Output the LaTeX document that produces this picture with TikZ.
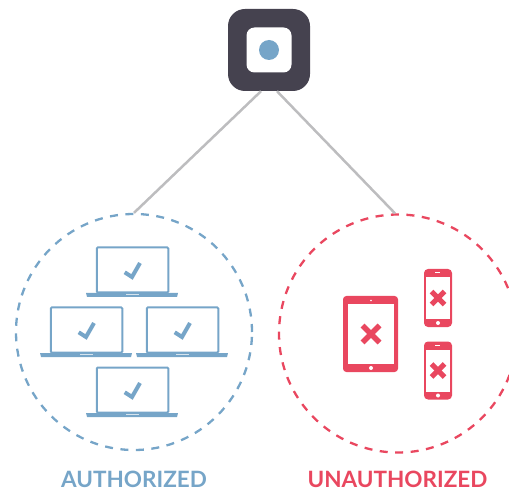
\documentclass[tikz,border=0pt]{standalone}
\usepackage{fontspec}
\setmainfont{Lato}
\usepackage{tikz}
\definecolor{hubdark}{HTML}{45424F}
\definecolor{authblue}{HTML}{76A5C8}
\definecolor{unauthred}{HTML}{E9475F}
\definecolor{linkgrey}{HTML}{BDBDBF}
\tikzset{
  zone/.style={circle,draw,line width=2.3pt,dash pattern=on 8pt off 7.5pt,inner sep=0pt},
  link/.style={draw=linkgrey,line width=2.5pt},
  zonelabel/.style={font=\fontsize{22.5}{23}\selectfont\bfseries,inner sep=0pt,anchor=base},
}

\begin{document}
\begin{tikzpicture}[x=1pt,y=-1pt]
  \newcommand{\laptopicon}[3]{
    \node (#1) at (#2+36.5,#3+23) [draw=authblue,line width=2pt,rounded corners=1pt,
      minimum width=71.5pt,minimum height=45pt,inner sep=0pt] {};
    \fill[authblue] (#2-10,#3+46) -- (#2+82,#3+46) -- (#2+81,#3+50) -- (#2-9,#3+50) -- cycle;
    \fill[white!70!authblue] (#2+30,#3+46.6) rectangle (#2+43,#3+47.8);
    \draw[authblue,line width=4pt] (#2+28.7,#3+25.3) -- (#2+36,#3+30) -- (#2+44,#3+16);
  }
  \newcommand{\crossicon}[4]{
    \draw[unauthred,line width=#4] (#1-#3,#2-#3) -- (#1+#3,#2+#3);
    \draw[unauthred,line width=#4] (#1-#3,#2+#3) -- (#1+#3,#2-#3);
  }
  \newcommand{\phoneicon}[3]{
    \node (#1) at (#2,#3) [fill=unauthred,rounded corners=4pt,
      minimum width=28pt,minimum height=58pt,inner sep=0pt] {};
    \fill[white] (#2-12,#3-21) rectangle (#2+11.5,#3+21);
    \fill[white] (#2+2,#3-25.6) rectangle (#2-3,#3-25);
    \fill[white] (#2,#3+25) circle (2pt);
    \crossicon{#2}{#3}{6.5}{5pt}
  }

  \useasboundingbox (0,0) rectangle (509,489);

  % hub
  \node (hub) at (269,50) [fill=hubdark,rounded corners=17pt,minimum size=82pt,inner sep=0pt] {};
  \node (hubinner) at (269,50) [fill=white,rounded corners=8pt,minimum size=45pt,inner sep=0pt] {};
  \node (hubdot) at (269,50) [circle,fill=authblue,minimum size=20pt,inner sep=0pt] {};

  % zones
  \node (authzone) at (134,332) [zone,draw=authblue,minimum size=236pt] {};
  \node (unauthzone) at (398,333.5) [zone,draw=unauthred,minimum size=238pt] {};
  \draw[link] (hub.-101) -- (authzone.north);
  \draw[link] (hub.-79) -- ([xshift=-3pt]unauthzone.north);

  % authorized laptops
  \laptopicon{laptoptop}{96}{247}
  \laptopicon{laptopleft}{50}{307}
  \laptopicon{laptopright}{146}{307}
  \laptopicon{laptopbottom}{96}{367}

  % unauthorized devices
  \node (tablet) at (370.5,334) [draw=unauthred,line width=1pt,fill=unauthred,rounded corners=3pt,
    minimum width=54pt,minimum height=75pt,inner sep=0pt] {};
  \fill[white] (348,304) rectangle (394,364);
  \fill[white] (371,368) circle (2pt);
  \fill[white] (371,300.5) circle (0.8pt);
  \crossicon{371}{334}{8.5}{5.5pt}
  \phoneicon{phonetop}{438}{298}
  \phoneicon{phonebottom}{438}{370.5}

  % labels
  \node (authlabel) at (134,487.5) [zonelabel,text=authblue] {AUTHORIZED};
  \node (unauthlabel) at (397.5,487.5) [zonelabel,text=unauthred] {UNAUTHORIZED};
\end{tikzpicture}
\end{document}
